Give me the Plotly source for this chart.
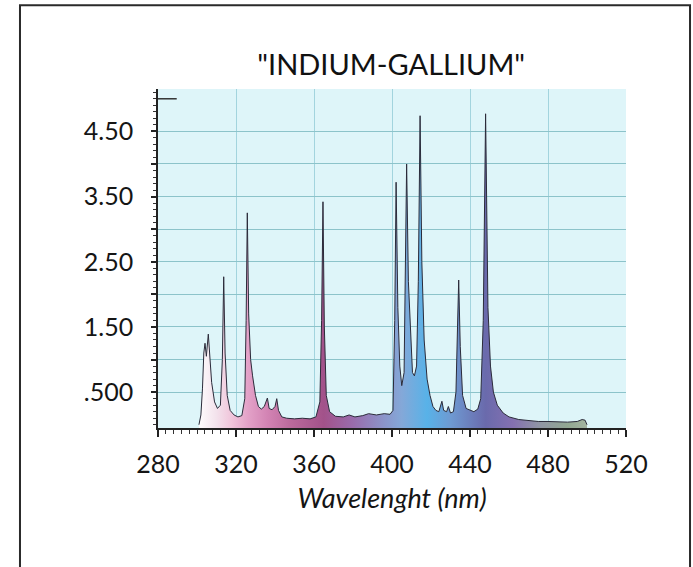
import plotly.graph_objects as go

# Spectrum data (wavelength nm, intensity)
wavelength = [301.0, 302.0, 302.8, 303.5, 304.1, 304.8, 305.8, 306.5, 307.5, 309.0,
              310.5, 312.0, 313.0, 313.7, 314.4, 315.5, 317.0, 319.0, 321.0, 323.0,
              324.5, 325.2, 325.8, 326.5, 327.5, 328.5, 330.0, 331.5, 333.0, 334.5,
              336.1, 337.0, 338.5, 340.0, 340.9, 341.8, 343.5, 346.0, 350.0, 354.0,
              358.0, 361.0, 363.0, 363.9, 364.6, 365.3, 366.3, 368.0, 371.0, 375.0,
              378.0, 381.0, 385.0, 388.0, 392.0, 396.0, 399.0, 400.5, 401.4, 402.1,
              403.0, 404.0, 405.0, 406.2, 407.5, 408.4, 409.5, 410.5, 411.5, 412.6,
              413.5, 414.4, 415.3, 416.5, 418.0, 419.5, 421.0, 422.5, 424.0, 425.6,
              426.5, 428.0, 428.9, 430.0, 431.5, 432.8, 433.6, 434.2, 435.0, 436.2,
              438.0, 440.0, 442.0, 444.0, 445.5, 446.8, 448.0, 449.2, 450.5, 452.0,
              454.0, 457.0, 460.0, 465.0, 470.0, 475.0, 480.0, 485.0, 490.0, 495.0,
              497.5, 499.0, 500.0]
intensity = [0.00, 0.15, 0.55, 1.10, 1.25, 1.05, 1.39, 1.10, 0.65, 0.35,
             0.25, 0.30, 1.00, 2.27, 1.10, 0.45, 0.22, 0.15, 0.12, 0.14,
             0.40, 1.60, 3.25, 1.70, 1.00, 0.75, 0.45, 0.28, 0.24, 0.28,
             0.41, 0.25, 0.23, 0.28, 0.40, 0.22, 0.12, 0.10, 0.09, 0.10,
             0.09, 0.12, 0.35, 1.60, 3.42, 1.50, 0.45, 0.20, 0.13, 0.12,
             0.15, 0.12, 0.14, 0.17, 0.15, 0.17, 0.16, 0.22, 1.60, 3.72,
             1.80, 0.90, 0.60, 0.80, 4.00, 2.20, 1.35, 0.80, 0.75, 0.90,
             2.20, 4.74, 2.50, 1.30, 0.70, 0.45, 0.28, 0.22, 0.20, 0.36,
             0.22, 0.20, 0.28, 0.18, 0.20, 0.50, 1.50, 2.22, 1.20, 0.45,
             0.25, 0.22, 0.20, 0.24, 0.40, 1.60, 4.77, 1.80, 0.90, 0.50,
             0.30, 0.18, 0.12, 0.08, 0.06, 0.05, 0.05, 0.04, 0.04, 0.05,
             0.08, 0.07, 0.00]

baseline_x = [301.0, 500.0]
baseline_y = [-0.05, -0.05]

x_ticks = [280, 320, 360, 400, 440, 480, 520]
y_tickvals = [0.5, 1.0, 1.5, 2.0, 2.5, 3.0, 3.5, 4.0, 4.5]
y_ticktext = [".500", "", "1.50", "", "2.50", "", "3.50", "", "4.50"]

# colour along wavelength (for gradient fill)
grad_nm = [300, 310, 318, 326, 336, 348, 365, 380, 395, 405, 418, 430, 448, 462, 476, 490, 500]
grad_col = ["#ffffff", "#f3e2ec", "#f0c4da", "#e3a2c8", "#d384b4", "#bb6a9c", "#a2528a",
            "#9a6cac", "#8c92c8", "#84a8d8", "#58b2e8", "#6e9ad2", "#6a6aac", "#8470b0",
            "#9096a4", "#92a892", "#a4b4a0"]

lo, hi = grad_nm[0], grad_nm[-1]
colorscale = [[(n - lo) / (hi - lo), c] for n, c in zip(grad_nm, grad_col)]

FONT = "Lato"

fig = go.Figure()
fig.add_trace(go.Scatter(x=baseline_x, y=baseline_y, mode="lines",
                         line=dict(width=0, color="rgba(0,0,0,0)"),
                         hoverinfo="skip", showlegend=False))
fig.add_trace(go.Scatter(
    x=wavelength, y=intensity, mode="lines",
    line=dict(color="#2b2b3a", width=1),
    fill="tonexty",
    fillgradient=dict(type="horizontal", colorscale=colorscale, start=lo, stop=hi),
    showlegend=False,
))

fig.update_layout(
    width=693, height=567,
    margin=dict(l=158, r=67, t=89, b=138.5, pad=0),
    paper_bgcolor="white",
    plot_bgcolor="#def5f9",
    font=dict(family=FONT, size=25, color="#151515"),
    title=dict(text='"INDIUM-GALLIUM"', x=0.5645, xref="container", xanchor="center",
               y=1 - 65 / 567, yref="container", yanchor="middle",
               font=dict(family=FONT, size=29, color="#111111")),
    showlegend=False,
)

fig.update_xaxes(
    range=[280, 520], tickvals=x_ticks, ticktext=[str(v) for v in x_ticks],
    showgrid=True, gridcolor="#a2d4de", gridwidth=1,
    showline=True, linecolor="#222222", linewidth=1.5,
    ticks="outside", ticklen=7, tickcolor="#222222", tickwidth=1.5,
    minor=dict(dtick=4, tick0=280, ticks="outside", ticklen=4, tickcolor="#333333",
               tickwidth=1, showgrid=False),
    ticklabelstandoff=6,
    zeroline=False,
    title=dict(text="<i>Wavelenght (nm)</i>", standoff=12,
               font=dict(family=FONT, size=27, color="#151515")),
    tickfont=dict(family=FONT, size=25, color="#151515"),
)
fig.update_yaxes(
    range=[-0.05, 5.15], tickmode="array", tickvals=y_tickvals, ticktext=y_ticktext,
    showgrid=True, gridcolor="#8cc3ca", gridwidth=1,
    showline=True, linecolor="#222222", linewidth=1.5,
    ticks="outside", ticklen=5, tickcolor="#222222", tickwidth=1.5,
    minor=dict(dtick=0.1, tick0=0, ticks="outside", ticklen=3, tickcolor="#333333",
               tickwidth=1, showgrid=False),
    ticklabelstandoff=13,
    zeroline=False,
    tickfont=dict(family=FONT, size=25, color="#151515"),
)

# short tick-like mark at 5.0 at the top of the y axis
fig.add_shape(type="line", xref="paper", yref="y", x0=0, x1=0.04, y0=5.0, y1=5.0,
              line=dict(color="#333333", width=1.5))

# outer frame
fig.add_shape(type="rect", xref="paper", yref="paper",
              x0=-0.2949, x1=1.1368, y0=-0.6, y1=1.2474,
              line=dict(color="#2a2a2a", width=2), fillcolor="rgba(0,0,0,0)", layer="above")

fig.write_html("out.html")
